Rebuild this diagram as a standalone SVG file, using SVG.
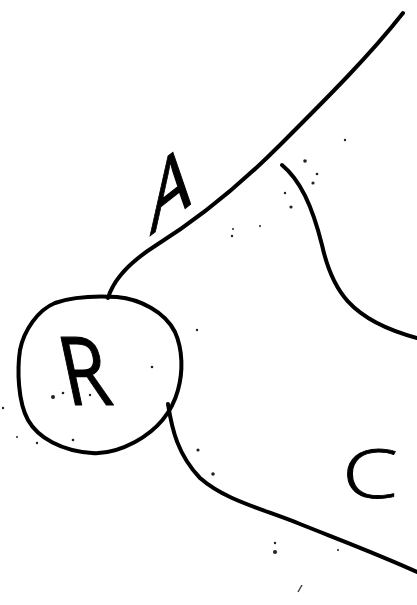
<svg xmlns="http://www.w3.org/2000/svg" width="417" height="605" viewBox="0 0 417 605">
<style>
.ln{fill:none;stroke:#000;stroke-width:4;stroke-linecap:round;stroke-linejoin:round}
.hand{font-family:"Open Sans","Liberation Sans",sans-serif;font-weight:400;fill:#000;stroke:#000;stroke-width:1.2;stroke-linejoin:round}
.thin{font-weight:300;stroke-width:0.8}
.dot{fill:#222}
</style>
<rect width="417" height="605" fill="#fff"/>
<g id="connectors">
<path id="edge-A" class="ln" d="M108,298 C114,278 130,262 155,246 C200,218 240,185 280,145 C330,95 370,55 403,13"/>
<path id="edge-B" class="ln" d="M282,165 C300,180 312,205 322,245 C332,290 350,320 417,338"/>
<path id="edge-C" class="ln" d="M168,404 C172,430 178,455 200,478 C225,500 260,508 300,524 C340,540 380,555 417,572"/>
</g>
<g id="node-R">
<path class="ln" d="M117,297 C140,299 165,312 175,332 C183,350 183,372 178,390 C172,412 157,430 135,442 C120,450 105,454 92,453 C62,451 38,438 28,420 C18,402 17,370 20,350 C24,330 38,310 55,303 C75,296 100,296 117,297 Z"/>
<text class="hand" font-size="95" transform="translate(68,405) skewX(12) scale(0.8,1)">R</text>
</g>
<g id="label-A">
<text class="hand" font-size="92" transform="translate(150,236) skewY(-38) scale(0.7,1)">A</text>
</g>
<g id="label-C">
<text class="hand thin" font-size="67" text-anchor="middle" transform="translate(370,498) scale(1.35,1)">C</text>
</g>
<g id="specks">
<circle class="dot" cx="305" cy="161" r="1.8"/>
<circle class="dot" cx="317" cy="174" r="1.3"/>
<circle class="dot" cx="313" cy="183" r="1.6"/>
<circle class="dot" cx="285" cy="193" r="1.2"/>
<circle class="dot" cx="291" cy="207" r="1.6"/>
<circle class="dot" cx="345" cy="140" r="1.2"/>
<circle class="dot" cx="198" cy="450" r="1.6"/>
<circle class="dot" cx="213" cy="474" r="1.8"/>
<circle class="dot" cx="275" cy="552" r="2"/>
<circle class="dot" cx="275" cy="543" r="1.2"/>
<circle class="dot" cx="338" cy="550" r="1"/>
<circle class="dot" cx="53" cy="397" r="2"/>
<circle class="dot" cx="63" cy="393" r="1.3"/>
<circle class="dot" cx="90" cy="395" r="1.2"/>
<circle class="dot" cx="152" cy="367" r="1.3"/>
<circle class="dot" cx="197" cy="330" r="1.2"/>
<circle class="dot" cx="3" cy="408" r="1.2"/>
<circle class="dot" cx="17" cy="437" r="1"/>
<circle class="dot" cx="73" cy="440" r="1.3"/>
<circle class="dot" cx="37" cy="443" r="1.2"/>
<circle class="dot" cx="232" cy="236" r="1.2"/>
<circle class="dot" cx="260" cy="226" r="1"/>
<circle class="dot" cx="233" cy="229" r="1"/>
<path d="M298,592 L302,585" stroke="#444" stroke-width="1.5" fill="none"/>
</g>
</svg>
